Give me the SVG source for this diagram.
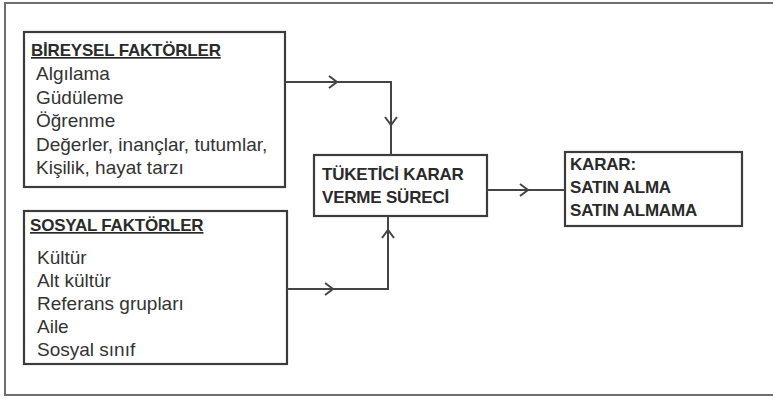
<svg xmlns="http://www.w3.org/2000/svg" xmlns:xlink="http://www.w3.org/1999/xlink" width="773" height="399" viewBox="0 0 773 399">
<style>
.box{fill:#fff;stroke:#3c3c3c;stroke-width:2.2}
.frame{fill:#fff;stroke:#6e6e6e;stroke-width:2}
.reg{font-family:"Liberation Sans",Arial,sans-serif;font-size:19px;fill:#333}
.bold{font-family:"Liberation Sans",Arial,sans-serif;font-size:17px;font-weight:bold;fill:#2a2a2a;letter-spacing:-0.2px}
.conn{fill:none;stroke:#444;stroke-width:2}
</style>
<defs>
<path id="chev" d="M-8,-6 L0,0 L-8,6" fill="none" stroke="#444" stroke-width="2"/>
</defs>
<rect class="frame" x="5" y="3" width="775" height="392"/>
<g id="bireysel">
<rect class="box" x="24" y="32" width="261" height="155"/>
<text class="bold" x="31" y="56" text-decoration="underline">BİREYSEL FAKTÖRLER</text>
<text class="reg" x="36" y="80">Algılama</text>
<text class="reg" x="36" y="103.5">Güdüleme</text>
<text class="reg" x="36" y="127">Öğrenme</text>
<text class="reg" x="36" y="150.5">Değerler, inançlar, tutumlar,</text>
<text class="reg" x="36" y="174">Kişilik, hayat tarzı</text>
</g>
<g id="sosyal">
<rect class="box" x="24" y="211" width="263" height="153"/>
<text class="bold" x="30" y="231" text-decoration="underline">SOSYAL FAKTÖRLER</text>
<text class="reg" x="37" y="264">Kültür</text>
<text class="reg" x="37" y="287">Alt kültür</text>
<text class="reg" x="37" y="310">Referans grupları</text>
<text class="reg" x="37" y="333">Aile</text>
<text class="reg" x="37" y="356">Sosyal sınıf</text>
</g>
<g id="surec">
<rect class="box" x="314" y="155" width="173" height="61"/>
<text class="bold" x="322" y="180">TÜKETİCİ KARAR</text>
<text class="bold" x="322" y="203">VERME SÜRECİ</text>
</g>
<g id="karar">
<rect class="box" x="565" y="152" width="177" height="74"/>
<text class="bold" x="570" y="170">KARAR:</text>
<text class="bold" x="570" y="193">SATIN ALMA</text>
<text class="bold" x="570" y="216">SATIN ALMAMA</text>
</g>
<g id="connectors">
<polyline class="conn" points="285,82 391,82 391,155"/>
<use xlink:href="#chev" transform="translate(337,82)"/>
<use xlink:href="#chev" transform="translate(391,125) rotate(90)"/>
<polyline class="conn" points="287,289 388,289 388,216"/>
<use xlink:href="#chev" transform="translate(333,289)"/>
<use xlink:href="#chev" transform="translate(388,230) rotate(-90)"/>
<line class="conn" x1="487" y1="190" x2="565" y2="190"/>
<use xlink:href="#chev" transform="translate(528,190)"/>
</g>
</svg>
